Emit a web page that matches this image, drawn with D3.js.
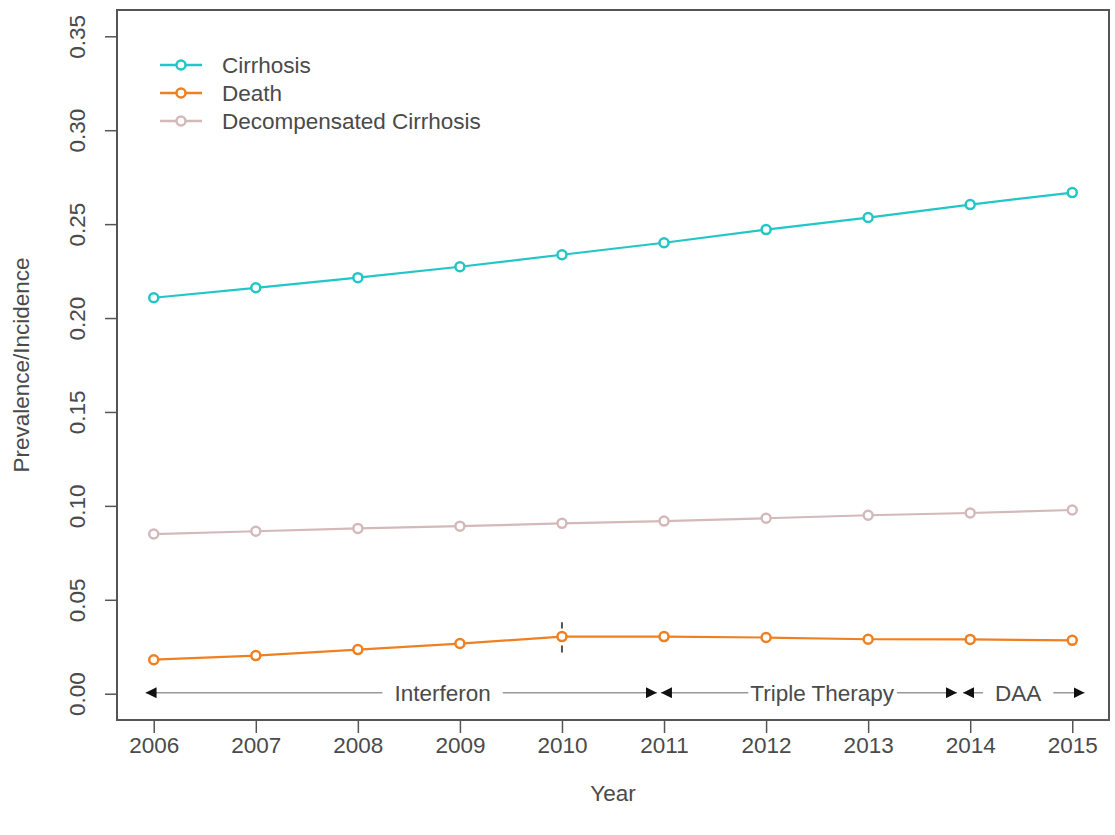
<!DOCTYPE html>
<html>
<head>
<meta charset="utf-8">
<script src="https://cdn.jsdelivr.net/npm/d3@7"></script>
<style>
  body { margin: 0; background: #fff; }
  text { font-family: "Liberation Sans", Arial, sans-serif; fill: #4a4a4a; }
</style>
</head>
<body>
<div id="chart-container"></div>
<script>
const years = [2006, 2007, 2008, 2009, 2010, 2011, 2012, 2013, 2014, 2015];
const cirrhosis = [0.2108, 0.2161, 0.2215, 0.2273, 0.2337, 0.2401, 0.2471, 0.2535, 0.2604, 0.2668];
const death = [0.0181, 0.0203, 0.0235, 0.0267, 0.0304, 0.0304, 0.0299, 0.0290, 0.0289, 0.0284];
const decompensated = [0.0850, 0.0865, 0.0880, 0.0892, 0.0907, 0.0919, 0.0934, 0.0950, 0.0962, 0.0978];
const yTicks = [0.00, 0.05, 0.10, 0.15, 0.20, 0.25, 0.30, 0.35];

const seriesNames = ["Cirrhosis", "Death", "Decompensated Cirrhosis"];
const seriesValues = [cirrhosis, death, decompensated];
const seriesColors = ["#22c6c6", "#ef8022", "#d4b9ba"];

// treatment periods drawn as arrows along y = 0
const periodLabels = ["Interferon", "Triple Therapy", "DAA"];
const periodStart = [2005.92, 2010.97, 2013.93];
const periodEnd = [2010.93, 2013.87, 2015.12];
const periodLabelAt = [2008.83, 2012.55, 2014.47];

// dashed marker at 2010 on the death curve
const markYear = 2010;
const markRange = [0.022, 0.038];

const svgWidth = 1115;
const svgHeight = 835;
const box = { left: 117, right: 1109, top: 10, bottom: 720 };

const svg = d3.select("#chart-container")
    .append("svg")
    .attr("width", svgWidth)
    .attr("height", svgHeight);

// R style 4% padding around the data range
const xPad = (d3.max(years) - d3.min(years)) * 0.04;
const scaleX = d3.scaleLinear()
    .domain([d3.min(years) - xPad, d3.max(years) + xPad])
    .range([box.left, box.right]);

const yPad = 0.35 * 0.04;
const scaleY = d3.scaleLinear()
    .domain([0 - yPad, 0.35 + yPad])
    .range([box.bottom, box.top]);

const fontSize = "22.5px";

// x axis
const xAxis = svg.append("g")
    .attr("transform", `translate(0,${box.bottom})`)
    .call(d3.axisBottom(scaleX).tickValues(years).tickFormat(d3.format("d")).tickSize(13).tickPadding(4));
xAxis.select(".domain").remove();
xAxis.selectAll("line").attr("stroke", "#555").attr("stroke-width", 1.5);
xAxis.selectAll("text").attr("font-size", fontSize).attr("fill", "#4a4a4a")
    .attr("font-family", "Liberation Sans, Arial, sans-serif");

// y axis with rotated labels
const yAxis = svg.append("g")
    .attr("transform", `translate(${box.left},0)`)
    .call(d3.axisLeft(scaleY).tickValues(yTicks).tickFormat(d3.format(".2f")).tickSize(12).tickPadding(0));
yAxis.select(".domain").remove();
yAxis.selectAll("line").attr("stroke", "#555").attr("stroke-width", 1.5);
yAxis.selectAll("text")
    .attr("font-size", fontSize).attr("fill", "#4a4a4a")
    .attr("font-family", "Liberation Sans, Arial, sans-serif")
    .attr("text-anchor", "middle")
    .attr("dy", null)
    .attr("x", null)
    .attr("transform", "translate(-32,0) rotate(-90)");

// plot box
svg.append("rect")
    .attr("x", box.left)
    .attr("y", box.top)
    .attr("width", box.right - box.left)
    .attr("height", box.bottom - box.top)
    .attr("fill", "none")
    .attr("stroke", "#555")
    .attr("stroke-width", 2);

// axis titles
svg.append("text")
    .attr("x", (box.left + box.right) / 2)
    .attr("y", 801)
    .attr("text-anchor", "middle")
    .attr("font-size", fontSize)
    .text("Year");

svg.append("text")
    .attr("transform", `translate(29,${(box.top + box.bottom) / 2}) rotate(-90)`)
    .attr("text-anchor", "middle")
    .attr("font-size", fontSize)
    .text("Prevalence/Incidence");

// arrowheads
const defs = svg.append("defs");
defs.append("marker")
    .attr("id", "head")
    .attr("viewBox", "0 0 10 10")
    .attr("refX", 10).attr("refY", 5)
    .attr("markerWidth", 11).attr("markerHeight", 11)
    .attr("markerUnits", "userSpaceOnUse")
    .attr("orient", "auto-start-reverse")
    .append("path")
    .attr("d", "M0,0 L10,5 L0,10 Z")
    .attr("fill", "#111");

const periods = periodLabels.map((label, i) => ({
    label: label, start: periodStart[i], end: periodEnd[i], at: periodLabelAt[i]
}));

const arrowY = scaleY(0) - 1;
const periodG = svg.append("g");
periods.forEach(p => {
    const g = periodG.append("g");
    g.append("line")
        .attr("x1", scaleX(p.start)).attr("x2", scaleX(p.end))
        .attr("y1", arrowY).attr("y2", arrowY)
        .attr("stroke", "#999")
        .attr("stroke-width", 1.5)
        .attr("marker-start", "url(#head)")
        .attr("marker-end", "url(#head)");
    const bg = g.append("rect").attr("fill", "#fff");
    const t = g.append("text")
        .attr("x", scaleX(p.at))
        .attr("y", arrowY)
        .attr("dy", "0.35em")
        .attr("text-anchor", "middle")
        .attr("font-size", fontSize)
        .attr("fill", "#333")
        .text(p.label);
    const bb = t.node().getBBox();
    const pad = p.label === "Triple Therapy" ? 2 : 12;
    bg.attr("x", bb.x - pad).attr("width", bb.width + pad * 2)
        .attr("y", arrowY - 4).attr("height", 8);
});

// dashed marker
svg.append("line")
    .attr("x1", scaleX(markYear)).attr("x2", scaleX(markYear))
    .attr("y1", scaleY(markRange[0])).attr("y2", scaleY(markRange[1]))
    .attr("stroke", "#555")
    .attr("stroke-width", 2)
    .attr("stroke-dasharray", "7,5");

// series lines and points
const line = d3.line()
    .x((d, i) => scaleX(years[i]))
    .y(d => scaleY(d));

seriesValues.forEach((vals, s) => {
    svg.append("path")
        .datum(vals)
        .attr("d", line)
        .attr("fill", "none")
        .attr("stroke", seriesColors[s])
        .attr("stroke-width", 2.2);

    svg.selectAll(".pt" + s)
        .data(vals)
        .enter()
        .append("circle")
        .attr("class", "pt" + s)
        .attr("cx", (d, i) => scaleX(years[i]))
        .attr("cy", d => scaleY(d))
        .attr("r", 4.5)
        .attr("fill", "#fff")
        .attr("stroke", seriesColors[s])
        .attr("stroke-width", 2.5);
});

// legend
const legend = svg.append("g").attr("transform", "translate(160,65)");
seriesNames.forEach((name, i) => {
    const y = i * 28;
    legend.append("line")
        .attr("x1", 0).attr("x2", 42)
        .attr("y1", y).attr("y2", y)
        .attr("stroke", seriesColors[i])
        .attr("stroke-width", 2.5);
    legend.append("circle")
        .attr("cx", 21).attr("cy", y).attr("r", 4.5)
        .attr("fill", "#fff")
        .attr("stroke", seriesColors[i])
        .attr("stroke-width", 2.5);
    legend.append("text")
        .attr("x", 62).attr("y", y)
        .attr("dy", "0.35em")
        .attr("font-size", fontSize)
        .text(name);
});
</script>
</body>
</html>
